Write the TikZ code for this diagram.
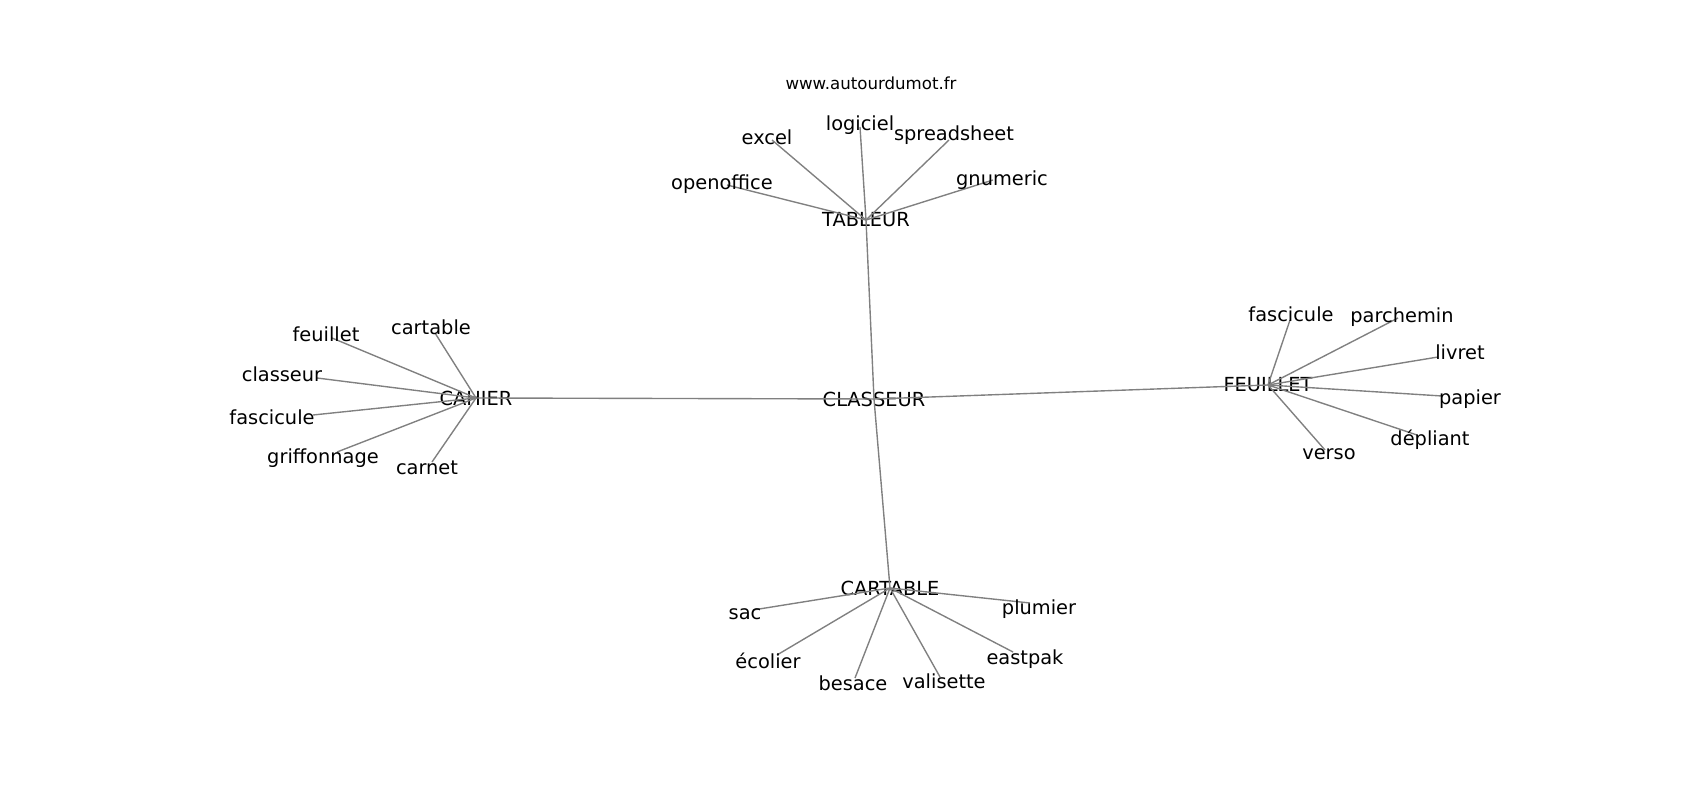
\documentclass[tikz,border=0pt]{standalone}
\usepackage{fontspec}
\setmainfont{DejaVu Sans}
\usepackage{xcolor}

\tikzset{
	word/.style={inner sep=0pt, font=\fontsize{14pt}{16pt}\selectfont},
	edge/.style={draw=gray, line width=1pt}
}

\begin{document}
\begin{tikzpicture}[x=0.01in, y=-0.01in]
	\useasboundingbox (0,0) rectangle (1700,800);

	\node[inner sep=0pt, font=\fontsize{12pt}{14pt}\selectfont] (site) at (871,83) {www.autourdumot.fr}; % Title

	% Hubs
	\node[word] (classeur) at (874,399) {CLASSEUR};
	\node[word] (tableur) at (866,220) {TABLEUR};
	\node[word] (cahier) at (476,398) {CAHIER};
	\node[word] (feuillet) at (1268,385) {FEUILLET};
	\node[word] (cartable) at (890,588) {CARTABLE};

	% Leaf ends
	\coordinate (ta-excel) at (772,140);
	\coordinate (ta-logiciel) at (860,127);
	\coordinate (ta-spread) at (949,140);
	\coordinate (ta-gnumeric) at (993,180);
	\coordinate (ta-openoffice) at (727,185);

	\coordinate (ca-cartable) at (435,333);
	\coordinate (ca-feuillet) at (332,338);
	\coordinate (ca-classeur) at (317,378);
	\coordinate (ca-fascicule) at (313,415);
	\coordinate (ca-griffonnage) at (337,452);
	\coordinate (ca-carnet) at (432,462);

	\coordinate (fe-fascicule) at (1290,320);
	\coordinate (fe-parchemin) at (1398,318);
	\coordinate (fe-livret) at (1438,357);
	\coordinate (fe-papier) at (1442,396);
	\coordinate (fe-depliant) at (1417,435);
	\coordinate (fe-verso) at (1325,450);

	\coordinate (cb-sac) at (753,610);
	\coordinate (cb-ecolier) at (777,655);
	\coordinate (cb-besace) at (855,678);
	\coordinate (cb-valisette) at (940,677);
	\coordinate (cb-eastpak) at (1013,652);
	\coordinate (cb-plumier) at (1030,603);

	% Edges
	\draw[edge] (classeur.center) -- (tableur.center);
	\draw[edge] (classeur.center) -- (cahier.center);
	\draw[edge] (classeur.center) -- (feuillet.center);
	\draw[edge] (classeur.center) -- (cartable.center);

	\draw[edge] (tableur.center) -- (ta-excel);
	\draw[edge] (tableur.center) -- (ta-logiciel);
	\draw[edge] (tableur.center) -- (ta-spread);
	\draw[edge] (tableur.center) -- (ta-gnumeric);
	\draw[edge] (tableur.center) -- (ta-openoffice);

	\draw[edge] (cahier.center) -- (ca-cartable);
	\draw[edge] (cahier.center) -- (ca-feuillet);
	\draw[edge] (cahier.center) -- (ca-classeur);
	\draw[edge] (cahier.center) -- (ca-fascicule);
	\draw[edge] (cahier.center) -- (ca-griffonnage);
	\draw[edge] (cahier.center) -- (ca-carnet);

	\draw[edge] (feuillet.center) -- (fe-fascicule);
	\draw[edge] (feuillet.center) -- (fe-parchemin);
	\draw[edge] (feuillet.center) -- (fe-livret);
	\draw[edge] (feuillet.center) -- (fe-papier);
	\draw[edge] (feuillet.center) -- (fe-depliant);
	\draw[edge] (feuillet.center) -- (fe-verso);

	\draw[edge] (cartable.center) -- (cb-sac);
	\draw[edge] (cartable.center) -- (cb-ecolier);
	\draw[edge] (cartable.center) -- (cb-besace);
	\draw[edge] (cartable.center) -- (cb-valisette);
	\draw[edge] (cartable.center) -- (cb-eastpak);
	\draw[edge] (cartable.center) -- (cb-plumier);

	% Leaf labels
	\node[word] (ta-excel-lbl) at (767,137) {excel};
	\node[word] (ta-logiciel-lbl) at (860,125) {logiciel};
	\node[word] (ta-spread-lbl) at (954,135) {spreadsheet};
	\node[word] (ta-gnumeric-lbl) at (1002,180) {gnumeric};
	\node[word] (ta-openoffice-lbl) at (722,184) {openoffice};

	\node[word] (ca-cartable-lbl) at (431,327) {cartable};
	\node[word] (ca-feuillet-lbl) at (326,334) {feuillet};
	\node[word] (ca-classeur-lbl) at (282,374) {classeur};
	\node[word] (ca-fascicule-lbl) at (272,417) {fascicule};
	\node[word] (ca-griffonnage-lbl) at (323,458) {griffonnage};
	\node[word] (ca-carnet-lbl) at (427,468) {carnet};

	\node[word] (fe-fascicule-lbl) at (1291,314) {fascicule};
	\node[word] (fe-parchemin-lbl) at (1402,317) {parchemin};
	\node[word] (fe-livret-lbl) at (1460,352) {livret};
	\node[word] (fe-papier-lbl) at (1470,399) {papier};
	\node[word] (fe-depliant-lbl) at (1430,440) {dépliant};
	\node[word] (fe-verso-lbl) at (1329,454) {verso};

	\node[word] (cb-sac-lbl) at (745,614) {sac};
	\node[word] (cb-ecolier-lbl) at (768,661) {écolier};
	\node[word] (cb-besace-lbl) at (853,683) {besace};
	\node[word] (cb-valisette-lbl) at (944,681) {valisette};
	\node[word] (cb-eastpak-lbl) at (1025,659) {eastpak};
	\node[word] (cb-plumier-lbl) at (1039,609) {plumier};
\end{tikzpicture}
\end{document}
